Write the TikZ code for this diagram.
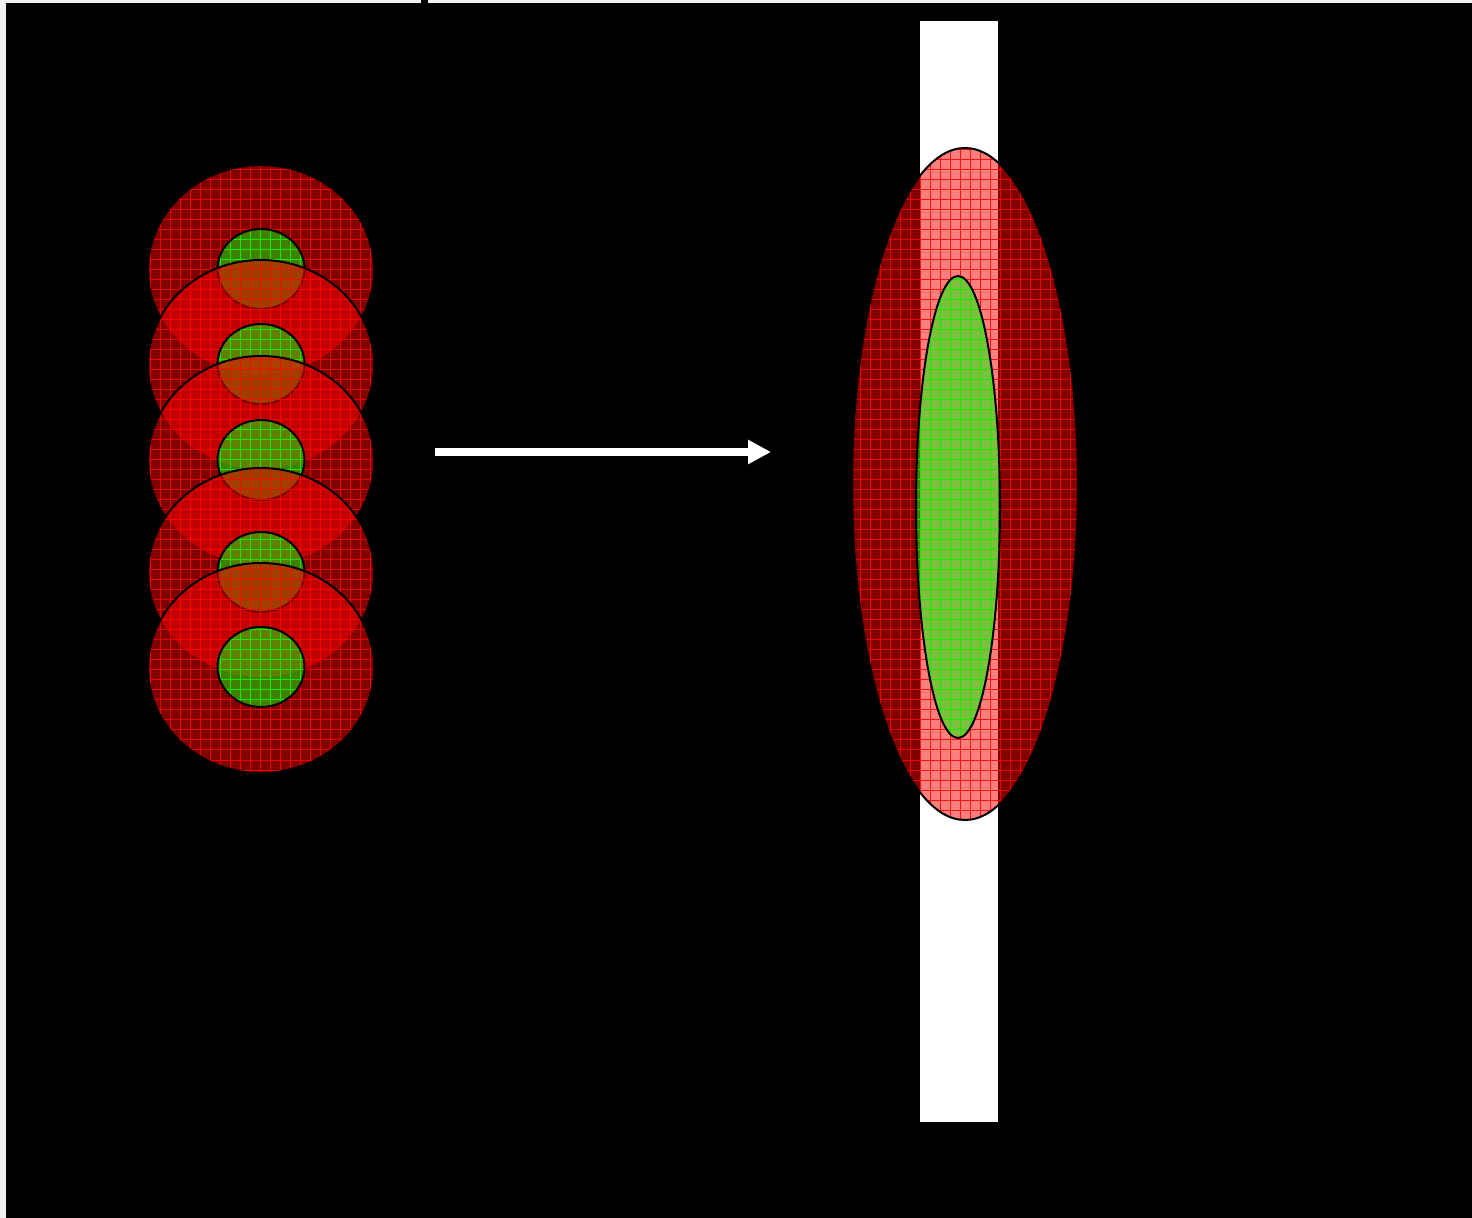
\documentclass[tikz,border=0pt]{standalone}
\usetikzlibrary{arrows.meta}
\definecolor{pagegray}{RGB}{242,242,242}
\newcommand\shapefill[3]{%
  \fill[#2, opacity=0.5] #1;
  \begin{scope}
    \clip #1;
    \draw[#3, line width=0.5pt, opacity=0.85] (0,1218) grid[step=5pt] (1472,0);
  \end{scope}
  \draw[black, line width=1pt] #1;
}
\tikzset{
  flow/.style={white, line width=4pt, -{Triangle[length=11.5pt, width=11.5pt]}},
  strip/.style={fill=white}
}
\begin{document}
\begin{tikzpicture}[x=0.5pt, y=-0.5pt]
\useasboundingbox (0,0) rectangle (1472,1218);
\fill[pagegray] (0,0) rectangle (1472,1218);
\fill[black] (6,3) rectangle (1472,1218);
\fill[black] (421,0) rectangle (428,3);
% left stack
\foreach \cy in {270,365,461,573,668}{
  \shapefill{(261,\cy) ellipse [x radius=113, y radius=105]}{red}{red}
  \shapefill{(261,\cy-1) ellipse [x radius=43.5, y radius=40]}{green}{green}
}
% arrow
\coordinate (from) at (435,452);
\coordinate (to) at (771,452);
\draw[flow] (from) -- (to);
% right
\fill[strip] (920,21) rectangle (998,1122);
\shapefill{(965,484) ellipse [x radius=113, y radius=336]}{red}{red}
\shapefill{(958,507) ellipse [x radius=42, y radius=231]}{green}{green}
\end{tikzpicture}
\end{document}
